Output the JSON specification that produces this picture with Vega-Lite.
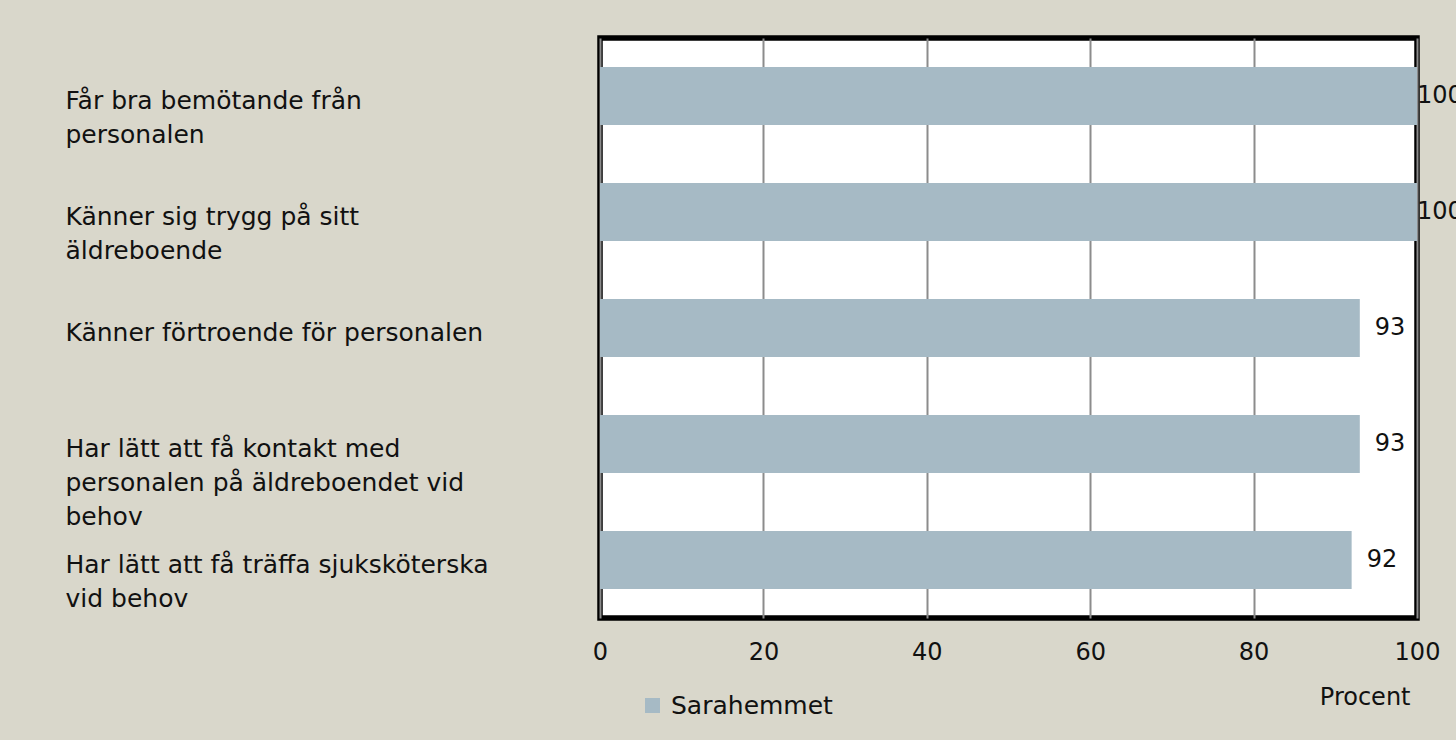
{
  "$schema": "https://vega.github.io/schema/vega-lite/v6.json",
  "width": 817,
  "height": 580,
  "autosize": {"type": "none"},
  "padding": {"left": 600, "top": 38, "right": 39, "bottom": 122},
  "background": "#d9d7cb",
  "config": {
    "font": "DejaVu Sans",
    "text": {"font": "DejaVu Sans"},
    "view": {"stroke": "#000000", "strokeWidth": 5.5, "fill": "#ffffff"}
  },
  "data": {
    "values": [
      {"fraga": "Får bra bemötande från|personalen", "procent": 100, "serie": "Sarahemmet"},
      {"fraga": "Känner sig trygg på sitt|äldreboende", "procent": 100, "serie": "Sarahemmet"},
      {"fraga": "Känner förtroende för personalen", "procent": 93, "serie": "Sarahemmet"},
      {"fraga": "Har lätt att få kontakt med|personalen på äldreboendet vid|behov", "procent": 93, "serie": "Sarahemmet"},
      {"fraga": "Har lätt att få träffa sjuksköterska|vid behov", "procent": 92, "serie": "Sarahemmet"}
    ]
  },
  "encoding": {
    "y": {
      "field": "fraga",
      "type": "nominal",
      "sort": null,
      "scale": {"paddingInner": 0.5, "paddingOuter": 0.25},
      "axis": {
        "title": null,
        "domain": false,
        "ticks": false,
        "grid": false,
        "labelAlign": "left",
        "labelPadding": 535,
        "labelBaseline": "alphabetic",
        "labelOffset": 13,
        "labelLineHeight": 34,
        "labelFontSize": 25,
        "labelColor": "#111111",
        "labelFont": "DejaVu Sans",
        "labelLimit": 600,
        "labelExpr": "split(datum.label, '|')"
      }
    },
    "x": {
      "field": "procent",
      "type": "quantitative",
      "scale": {"domain": [0, 100], "nice": false},
      "axis": {
        "values": [0, 20, 40, 60, 80, 100],
        "title": "Procent",
        "titleFont": "DejaVu Sans",
        "titleFontSize": 24,
        "titleFontWeight": "normal",
        "titleColor": "#111111",
        "titleAnchor": "start",
        "titleAlign": "right",
        "titleX": 810,
        "titleY": 79,
        "titleBaseline": "middle",
        "domain": false,
        "ticks": false,
        "grid": true,
        "gridColor": "#8c8c8c",
        "gridWidth": 2,
        "labelPadding": 22,
        "labelFontSize": 24,
        "labelColor": "#111111",
        "labelFont": "DejaVu Sans",
        "labelFlush": false
      }
    }
  },
  "layer": [
    {
      "mark": {"type": "bar"},
      "encoding": {
        "color": {
          "field": "serie",
          "type": "nominal",
          "scale": {"range": ["#a6bac5"]},
          "legend": {
            "title": null,
            "orient": "none",
            "legendX": 40,
            "legendY": 655,
            "symbolType": "square",
            "symbolSize": 225,
            "symbolStrokeWidth": 0,
            "labelFontSize": 25,
            "labelFont": "DejaVu Sans",
            "labelColor": "#111111",
            "labelOffset": 6,
            "labelLimit": 400
          }
        }
      }
    },
    {
      "transform": [{"filter": "datum.procent < 100"}],
      "mark": {"type": "text", "align": "left", "baseline": "middle", "dx": 15, "fontSize": 24, "color": "#111111"},
      "encoding": {"text": {"field": "procent", "type": "quantitative"}}
    },
    {
      "transform": [{"filter": "datum.procent >= 100"}],
      "mark": {"type": "text", "align": "left", "baseline": "middle", "dx": 0, "fontSize": 24, "color": "#111111"},
      "encoding": {"text": {"field": "procent", "type": "quantitative"}}
    }
  ]
}
